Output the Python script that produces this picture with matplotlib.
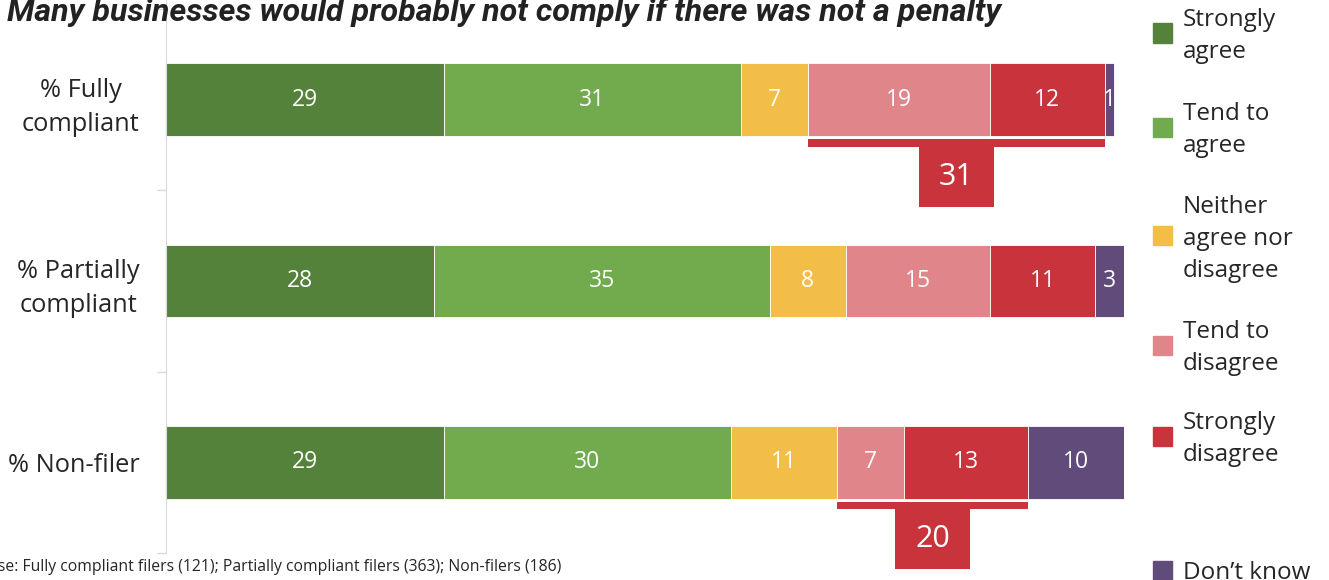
import matplotlib.pyplot as plt
from matplotlib.patches import Rectangle
import numpy as np

plt.rcParams['font.family'] = ['Open Sans', 'DejaVu Sans']

# Svar per gruppe (prosent)
groups = ['% Fully\ncompliant', '% Partially\ncompliant', '% Non-filer']
series = ['Strongly\nagree', 'Tend to\nagree', 'Neither\nagree nor\ndisagree',
          'Tend to\ndisagree', 'Strongly\ndisagree', 'Don\u2019t know']
strongly_agree = [29, 28, 29]
tend_agree = [31, 35, 30]
neither = [7, 8, 11]
tend_disagree = [19, 15, 7]
strongly_disagree = [12, 11, 13]
dont_know = [1, 3, 10]
# grupper som far en "uenig"-sum under stolpen
bracket_rows = [0, 2]

colors = ['#54823a', '#72ab4e', '#f2be48', '#e0858a', '#c9333b', '#614b7a']
values = [strongly_agree, tend_agree, neither, tend_disagree, strongly_disagree, dont_know]

fig = plt.figure(figsize=(13.29, 5.8), dpi=100)
ax = fig.add_axes([166 / 1329, 1 - 553 / 580, 958 / 1329, 544 / 580])

y = np.arange(len(groups))
left = np.zeros(len(groups))
for vals, col in zip(values, colors):
    vals = np.array(vals, dtype=float)
    ax.barh(y, vals, left=left, height=0.4, color=col, edgecolor='white', linewidth=0.6)
    for yi, (l, v) in enumerate(zip(left, vals)):
        ax.text(l + v / 2, yi, f"{v:.0f}", ha='center', va='center', color='white', fontsize=16.5)
    left += vals

# Sum av "tend to disagree" + "strongly disagree"
for r in bracket_rows:
    x0 = sum(v[r] for v in values[:3])
    total = tend_disagree[r] + strongly_disagree[r]
    ax.add_patch(Rectangle((x0, r + 0.218), total, 0.042, color='#c9333b', clip_on=False, lw=0))
    cx = x0 + total / 2
    ax.add_patch(Rectangle((cx - 3.95, r + 0.26), 7.9, 0.33, color='#c9333b', clip_on=False, lw=0))
    ax.text(cx, r + 0.425, str(total), ha='center', va='center', color='white', fontsize=22)

ax.set_xlim(0, 100)
ax.set_ylim(2.5, -0.5)
ax.set_xticks([])
ax.set_yticks(y, groups, fontsize=18.3, multialignment='center', linespacing=1.5)
ax.set_yticks([-0.5, 0.5, 1.5, 2.5], minor=True)
ax.tick_params(axis='y', which='major', length=0, pad=19, colors='#262626')
ax.tick_params(axis='y', which='minor', length=6.5, color='#d9d9d9', width=1)
for s in ['top', 'right', 'bottom']:
    ax.spines[s].set_visible(False)
ax.spines['left'].set_color('#d9d9d9')
ax.spines['left'].set_bounds(-0.55, 2.5)

# Tegnforklaring
legend_y = [33, 127, 236, 345, 436, 570]
for lab, col, yp in zip(series, colors, legend_y):
    fy = 1 - yp / 580
    fig.patches.append(Rectangle((1153 / 1329, fy - 9.5 / 580), 19 / 1329, 19 / 580,
                                 color=col, transform=fig.transFigure, figure=fig))
    fig.text(1183 / 1329, fy - 3 / 580, lab, ha='left', va='center', fontsize=17.5,
             color='#262626', linespacing=1.42)

fig.text(7 / 1329, 1 - 21 / 580, "Many businesses would probably not comply if there was not a penalty",
         ha='left', va='baseline', fontsize=23.2, fontweight='bold', fontstyle='italic',
         family=['Roboto', 'DejaVu Sans'], color='#222222')
fig.text(561 / 1329, 1 - 567 / 580,
         "Base: Fully compliant filers (121); Partially compliant filers (363); Non-filers (186)",
         ha='right', va='center', fontsize=11.3, color='#262626')

fig.savefig('out.png', dpi=100)
